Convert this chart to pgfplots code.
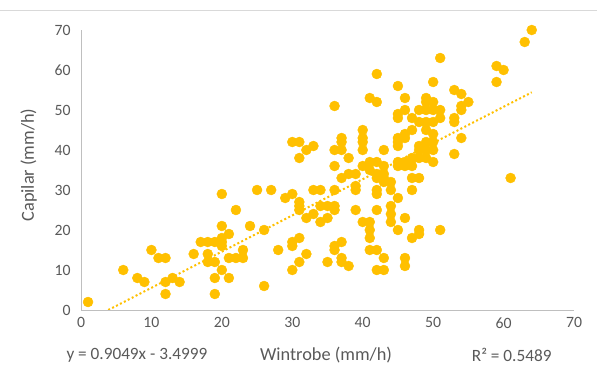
\documentclass[border=0pt]{standalone}
\usepackage{pgfplots}
\pgfplotsset{compat=1.18}
\usepackage{fontspec}
\setmainfont{Carlito}
\definecolor{gold}{HTML}{FFC000}
\definecolor{txt}{HTML}{595959}
\definecolor{axl}{HTML}{BFBFBF}
\begin{document}
\begin{tikzpicture}
\useasboundingbox (0,0) rectangle (597bp,381bp);
\draw[color=black!15, line width=1bp] (0,370bp) -- (597bp,370bp);
\begin{axis}[
  at={(81bp,71bp)}, anchor=south west,
  scale only axis, width=493bp, height=280bp,
  xmin=0, xmax=70, ymin=0, ymax=70,
  xtick distance=10, ytick distance=10,
  axis x line*=bottom, axis y line*=left,
  axis line style={axl, line width=0.8bp, -},
  major tick length=0,
  tick label style={txt, font=\fontsize{15.8}{18}\selectfont},
  /pgf/number format/assume math mode=true,
  xticklabel style={yshift=-4bp},
  yticklabel style={xshift=-7bp},
  xlabel={Wintrobe (mm/h)},
  ylabel={Capilar (mm/h)},
  label style={txt, font=\fontsize{18.4}{20}\selectfont},
  xlabel style={at={(axis description cs:0.497,-0.161)}, anchor=center},
  ylabel style={at={(axis description cs:-0.106,0.518)}, anchor=center, rotate=0},
]
\addplot[only marks, mark=*, mark size=5bp, mark options={fill=gold, draw=gold}] table {
x y
1 2
6 10
8 8
9 7
10 15
11 13
12 13
12 7
13 8
14 7
12 4
16 14
17 17
18 17
19 17
20 17
18 14
18 12
19 12
20 21
20 29
20 16
20 18
21 19
21 13
22 13
23 13
23 15
22 25
19 8
20 10
21 8
19 4
24 21
25 30
27 30
26 20
26 6
28 15
29 28
30 29
30 17
30 16
30 10
31 25
31 26
31 27
31 18
31 12
32 14
30 42
31 42
31 38
32 40
33 41
33 30
34 30
33 24
34 26
35 26
32 23
34 22
35 23
36 25
35 12
36 51
36 40
37 40
36 36
37 42
37 43
38 38
36 30
36 26
36 16
36 15
37 33
37 17
37 13
37 12
38 11
38 34
39 34
39 30
39 31
39 25
40 22
40 45
40 43
40 42
40 40
40 36
41 53
42 52
42 59
41 35
42 34
43 34
42 33
41 37
42 37
41 22
41 20
41 18
41 15
42 30
42 29
42 25
42 15
42 10
43 10
43 40
43 36
43 33
43 32
43 13
44 26
44 24
44 22
44 32
44 30
45 56
45 49
45 48
45 43
45 42
45 41
45 37
45 36
45 28
45 20
46 53
46 50
46 44
46 43
46 37
46 36
46 23
46 13
46 11
47 48
47 45
47 38
47 36
47 33
47 30
47 18
48 50
48 47
48 41
48 40
48 38
48 33
48 20
48 19
49 53
49 52
49 50
49 47
49 45
49 42
49 40
49 38
50 57
50 52
50 50
50 47
50 44
50 42
50 40
50 37
51 63
51 50
51 48
51 20
53 55
53 48
53 47
53 39
54 54
54 51
54 50
54 43
55 52
59 61
59 57
60 60
61 33
63 67
64 70
};
\addplot[gold, line width=2bp, dash pattern=on 2bp off 2.4bp] coordinates {(3.868,0) (64,54.414)};
\end{axis}
\node[txt, font=\fontsize{17.3}{19}\selectfont, anchor=west] at (63bp,26bp) {y = 0.9049x - 3.4999};
\node[txt, font=\fontsize{17.3}{19}\selectfont, anchor=east] at (555bp,26bp) {R² = 0.5489};
\end{tikzpicture}
\end{document}
